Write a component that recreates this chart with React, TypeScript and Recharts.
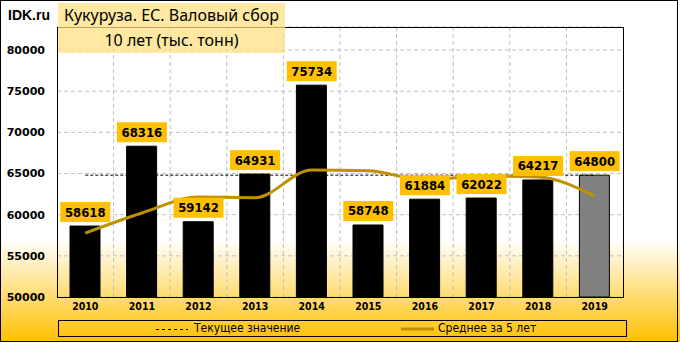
import React from "react";
import {
  ComposedChart,
  Bar,
  Line,
  XAxis,
  YAxis,
  CartesianGrid,
  Cell,
  LabelList,
} from "recharts";

// Кукуруза, ЕС, валовый сбор (тыс. тонн)
const years = ["2010", "2011", "2012", "2013", "2014", "2015", "2016", "2017", "2018", "2019"];
const harvest = [58618, 68316, 59142, 64931, 75734, 58748, 61884, 62022, 64217, 64800];
const avg5 = [57770, 60200, 62150, 62060, 65420, 65340, 64210, 64700, 64580, 62270];
const currentValue = 64800;
const yTicks = [50000, 55000, 60000, 65000, 70000, 75000, 80000];

const data = years.map((year, i) => ({
  year,
  harvest: harvest[i],
  avg5: avg5[i],
  current: currentValue,
}));

const tickFont = { fontSize: 11, fontWeight: 700, fontFamily: "DejaVu Sans", fill: "#000" };

// yellow value tag above each bar
const ValueTag = (props: any) => {
  const { x, y, value } = props;
  if (x == null || y == null) return null;
  return (
    <g>
      <rect x={x - 25} y={y - 24} width={50} height={20} fill="#FFC000" />
      <text
        x={x}
        y={y - 14}
        textAnchor="middle"
        dominantBaseline="central"
        fontFamily="DejaVu Sans Condensed"
        fontWeight={700}
        fontSize={13}
        fill="#000"
      >
        {value}
      </text>
    </g>
  );
};

export default function App() {
  return (
    <div
      style={{
        position: "absolute",
        left: 0,
        top: 0,
        width: 680,
        height: 342,
        overflow: "hidden",
        background: "linear-gradient(to bottom, #ffffff 0%, #ffffff 70%, #FFC000 100%)",
      }}
    >
      <div
        style={{
          position: "absolute",
          left: 0,
          top: 0,
          width: 678,
          height: 342,
          boxSizing: "border-box",
          border: "1px solid #000",
        }}
      />
      <ComposedChart
        width={680}
        height={342}
        data={data}
        margin={{ top: 27, right: 0, bottom: 25, left: 0 }}
        style={{ position: "absolute", left: 0, top: 0 }}
      >
        <CartesianGrid
          yAxisId="left"
          stroke="#BFBFBF"
          strokeDasharray="4 3"
          verticalCoordinatesGenerator={({ offset }: any) =>
            years.slice(1).map((_, i) => offset.left + (offset.width * (i + 1)) / years.length)
          }
        />
        <XAxis
          dataKey="year"
          height={20}
          axisLine={false}
          tickLine={false}
          tickSize={0}
          tickMargin={6}
          interval={0}
          tick={{ ...tickFont, fontSize: 10.5, fontFamily: "DejaVu Sans Condensed" }}
        />
        <YAxis
          yAxisId="left"
          width={57}
          domain={[50000, 82800]}
          ticks={yTicks}
          axisLine={false}
          tickLine={false}
          tickSize={0}
          tickMargin={12}
          tick={tickFont}
        />
        <YAxis
          yAxisId="right"
          orientation="right"
          width={57}
          domain={[50000, 82800]}
          ticks={yTicks}
          axisLine={false}
          tickLine={false}
          tickSize={0}
          tickMargin={12}
          tick={tickFont}
        />
        <Line
          yAxisId="left"
          dataKey="current"
          stroke="#000"
          strokeWidth={1}
          strokeDasharray="3 2"
          dot={false}
          activeDot={false}
          isAnimationActive={false}
        />
        <Bar yAxisId="left" dataKey="harvest" barSize={30} isAnimationActive={false}>
          {data.map((d, i) => (
            <Cell
              key={d.year}
              fill={i === data.length - 1 ? "#808080" : "#000"}
              stroke="#000"
              strokeWidth={1}
            />
          ))}
        </Bar>
        <Line
          yAxisId="left"
          type="monotone"
          dataKey="avg5"
          stroke="#BF9000"
          strokeWidth={3}
          dot={false}
          activeDot={false}
          isAnimationActive={false}
        />
        <Line
          yAxisId="left"
          dataKey="harvest"
          stroke="none"
          dot={false}
          activeDot={false}
          isAnimationActive={false}
        >
          <LabelList dataKey="harvest" content={ValueTag} />
        </Line>
      </ComposedChart>

      {/* plot frame */}
      <div
        style={{
          position: "absolute",
          left: 57,
          top: 27,
          width: 567,
          height: 271,
          boxSizing: "border-box",
          border: "1px solid #000",
          pointerEvents: "none",
        }}
      />

      {/* title */}
      <div
        style={{
          position: "absolute",
          left: 8,
          top: 7,
          fontFamily: "Liberation Sans",
          fontWeight: 700,
          fontSize: 14,
          color: "#000",
        }}
      >
        IDK.ru
      </div>
      <div
        style={{
          position: "absolute",
          left: 58,
          top: 3,
          width: 227,
          height: 50,
          background: "rgba(255, 224, 130, 0.75)",
          fontFamily: "Noto Sans",
          fontSize: 16,
          color: "#000",
          textAlign: "center",
          lineHeight: "25px",
          whiteSpace: "nowrap",
        }}
      >
        <div>Кукуруза. ЕС. Валовый сбор</div>
        <div>10 лет (тыс. тонн)</div>
      </div>

      {/* legend */}
      <div
        style={{
          position: "absolute",
          left: 58,
          top: 320,
          width: 569,
          height: 17,
          boxSizing: "border-box",
          border: "1px solid #000",
          fontFamily: "DejaVu Sans Condensed",
          fontSize: 12,
          color: "#000",
        }}
      >
        <svg style={{ position: "absolute", left: 97, top: 7 }} width={32} height={3}>
          <line x1={0} y1={1.5} x2={32} y2={1.5} stroke="#000" strokeWidth={1} strokeDasharray="3 3" />
        </svg>
        <span style={{ position: "absolute", left: 135, top: 0, lineHeight: "15px" }}>
          Текущее значение
        </span>
        <svg style={{ position: "absolute", left: 342, top: 6 }} width={33} height={4}>
          <line x1={0} y1={2} x2={33} y2={2} stroke="#BF9000" strokeWidth={3} />
        </svg>
        <span style={{ position: "absolute", left: 379, top: 0, lineHeight: "15px" }}>
          Среднее за 5 лет
        </span>
      </div>
    </div>
  );
}
